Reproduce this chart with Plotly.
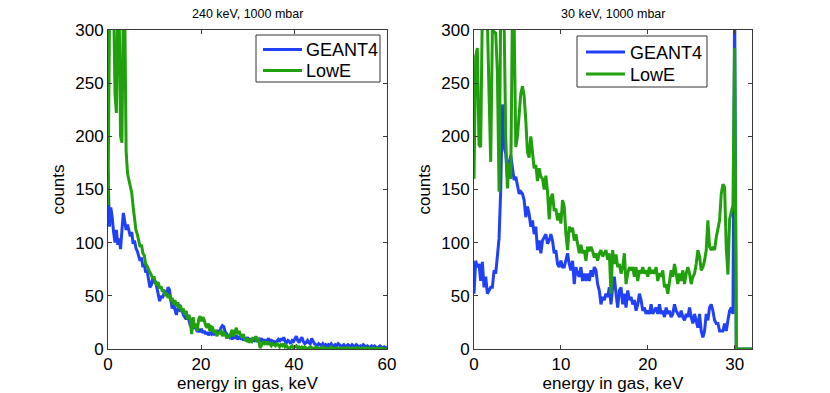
import plotly.graph_objects as go

# ---------------- data ----------------
left_title = "240 keV, 1000 mbar"
right_title = "30 keV, 1000 mbar"
series_names = ["GEANT4", "LowE"]

left_step = 0.3  # keV per bin
left_geant4 = [
    168, 115, 133, 124, 110, 100, 112, 98, 104, 94,
    112, 128, 120, 112, 117, 110, 106, 110, 99, 102,
    95, 92, 88, 83, 86, 77, 80, 72, 74, 64,
    58, 60, 66, 62, 64, 58, 52, 45, 50, 48,
    52, 55, 50, 58, 56, 45, 38, 42, 36, 32,
    38, 42, 35, 38, 32, 30, 28, 32, 26, 22,
    20, 24, 19, 21, 16, 18, 16, 19, 15, 17,
    14, 16, 13, 15, 14, 17, 13, 16, 14, 18,
    15, 20, 22, 21, 16, 14, 12, 11, 13, 9,
    12, 10, 13, 9, 11, 10, 12, 8, 10, 9,
    11, 8, 10, 7, 9, 8, 10, 7, 9, 8,
    10, 7, 9, 6, 8, 10, 7, 9, 5, 7,
    6, 8, 9, 7, 10, 8, 11, 7, 6, 8,
    7, 5, 8, 7, 10, 12, 8, 6, 9, 11,
    7, 5, 6, 8, 6, 5, 10, 7, 5, 4,
    3, 5, 4, 3, 5, 3, 4, 2, 4, 3,
    5, 3, 2, 4, 3, 5, 4, 2, 3, 4,
    2, 3, 4, 3, 2, 4, 3, 2, 4, 3,
    2, 3, 2, 4, 3, 2, 3, 2, 1, 3,
    2, 3, 2, 1, 2, 3, 2, 1, 2, 1,
    2,
]
left_lowe = [
    135, 300, 330, 305, 330, 240, 222, 330, 320, 200,
    194, 330, 320, 186, 165, 158, 152, 147, 134, 120,
    112, 108, 102, 96, 98, 90, 88, 80, 78, 74,
    72, 70, 66, 68, 62, 60, 63, 57, 59, 54,
    56, 50, 53, 48, 51, 45, 48, 42, 46, 40,
    44, 38, 41, 35, 38, 32, 36, 28, 32, 27,
    14, 30, 20, 24, 17, 28, 31, 26, 30, 27,
    22, 20, 24, 17, 21, 20, 15, 18, 12, 16,
    14, 18, 12, 15, 14, 10, 13, 11, 15, 18,
    12, 16, 20, 14, 17, 13, 11, 14, 9, 8,
    10, 6, 8, 7, 11, 9, 12, 8, 9, 1,
    4, 6, 5, 7, 4, 6, 5, 3, 5, 4,
    3, 5, 4, 2, 4, 3, 5, 2, 3, 1,
    0, 2, 3, 1, 2, 3, 1, 2, 1, 2,
    1, 2, 1, 0, 1, 2, 1, 1, 0, 2,
    1, 0, 1, 1, 2, 0, 1, 1, 0, 1,
    2, 1, 0, 1, 1, 0, 1, 0, 1, 1,
    0, 1, 0, 1, 0, 1, 1, 0, 1, 0,
    1, 0, 1, 0, 0, 1, 0, 1, 0, 0,
    1, 0, 0, 1, 0, 0, 1, 0, 0, 0,
    0,
]

right_step = 30.0 / 156  # keV per bin
right_geant4 = [
    52, 83, 77, 80, 64, 82, 58, 68, 52, 55,
    58, 58, 74, 71, 85, 104, 150, 230, 190, 184,
    160, 175, 182, 170, 159, 162, 152, 146, 148, 146,
    140, 124, 134, 127, 115, 121, 108, 115, 93, 102,
    90, 102, 105, 108, 99, 102, 108, 102, 90, 93,
    80, 77, 83, 77, 77, 83, 90, 80, 74, 83,
    61, 77, 71, 68, 77, 64, 71, 64, 71, 64,
    74, 68, 77, 74, 61, 55, 42, 49, 46, 52,
    49, 58, 42, 58, 68, 52, 39, 55, 58, 42,
    52, 39, 55, 46, 49, 42, 46, 36, 42, 52,
    46, 36, 39, 33, 36, 33, 42, 33, 36, 39,
    33, 42, 33, 36, 30, 39, 33, 36, 30, 33,
    42, 36, 33, 30, 36, 30, 27, 33, 30, 39,
    30, 24, 33, 27, 20, 33, 17, 11, 17, 33,
    27, 39, 42, 36, 27, 24, 24, 17, 17, 17,
    24, 17, 27, 36, 39, 33, 330, 0, 0, 0,
    0, 0, 0, 0, 0, 0, 0, 0,
]
right_lowe = [
    160, 275, 283, 192, 190, 320, 330, 320, 310, 240,
    176, 300, 298, 297, 260, 148, 320, 330, 310, 200,
    151, 175, 160, 320, 310, 190, 200, 225, 240, 247,
    238, 215, 185, 180, 200, 185, 170, 173, 158, 170,
    162, 160, 150, 163, 148, 122, 142, 146, 130, 132,
    121, 128, 118, 140, 134, 108, 93, 115, 110, 114,
    102, 108, 99, 90, 98, 90, 93, 83, 96, 92,
    96, 92, 86, 90, 83, 90, 93, 87, 90, 93,
    84, 90, 52, 93, 80, 89, 77, 80, 71, 77,
    90, 61, 71, 77, 74, 77, 68, 77, 64, 74,
    71, 77, 71, 74, 68, 77, 71, 74, 71, 77,
    64, 71, 68, 74, 58, 61, 52, 64, 74, 68,
    80, 71, 61, 71, 64, 74, 61, 71, 77, 71,
    61, 68, 71, 80, 93, 87, 74, 77, 83, 93,
    121, 96, 93, 96, 93, 105, 112, 121, 146, 155,
    152, 95, 70, 122, 129, 135, 283, 0, 0, 0,
    0, 0, 0, 0, 0, 0, 0, 0,
]

left_energy = [round(i * left_step, 3) for i in range(len(left_geant4))]
right_energy = [round(i * right_step, 4) for i in range(len(right_geant4))]

y_ticks = [0, 50, 100, 150, 200, 250, 300]
left_xticks = [0, 20, 40, 60]
right_xticks = [0, 10, 20, 30]

# ---------------- styling ----------------
W, H = 830, 393
BLUE = "#2141f7"
GREEN = "#21a00d"
FONT = "Liberation Sans, Arial, Helvetica, sans-serif"
LW = 3
COLORS = [BLUE, GREEN]

fig = go.Figure()
fig.add_trace(go.Scatter(x=left_energy, y=left_geant4, mode="lines", name=series_names[0],
                         line=dict(color=BLUE, width=LW), xaxis="x", yaxis="y", showlegend=False))
fig.add_trace(go.Scatter(x=left_energy, y=left_lowe, mode="lines", name=series_names[1],
                         line=dict(color=GREEN, width=LW), xaxis="x", yaxis="y", showlegend=False))
fig.add_trace(go.Scatter(x=right_energy, y=right_geant4, mode="lines", name=series_names[0],
                         line=dict(color=BLUE, width=LW), xaxis="x2", yaxis="y2", showlegend=False))
fig.add_trace(go.Scatter(x=right_energy, y=right_lowe, mode="lines", name=series_names[1],
                         line=dict(color=GREEN, width=LW), xaxis="x2", yaxis="y2", showlegend=False))

def px_x(p):
    return p / W

def px_y(p):
    return 1 - p / H

ax_common = dict(showline=True, linecolor="#3a3a3a", linewidth=1, mirror="ticks",
                 ticks="inside", ticklen=4, tickcolor="#3a3a3a", tickwidth=1,
                 showgrid=False, zeroline=False, automargin=False,
                 tickfont=dict(family=FONT, size=17, color="black"))

# legend boxes drawn in pixel layout: (box left, top, right, bottom, sample x0, x1, text x, row ys)
legend_boxes = [
    dict(box=(256, 35, 380, 82), sample=(263, 302), text_x=304, rows=(49.5, 70.5)),
    dict(box=(577, 36, 707, 87), sample=(586, 625), text_x=628, rows=(52, 74)),
]

shapes = []
annotations = [
    dict(text=left_title, x=(px_x(108) + px_x(387)) / 2, y=px_y(13.5), xref="paper", yref="paper",
         xanchor="center", yanchor="middle", showarrow=False, font=dict(family=FONT, size=12.5)),
    dict(text=right_title, x=(px_x(474) + px_x(752)) / 2, y=px_y(13.5), xref="paper", yref="paper",
         xanchor="center", yanchor="middle", showarrow=False, font=dict(family=FONT, size=12.5)),
]
for lg in legend_boxes:
    x0, y0, x1, y1 = lg["box"]
    shapes.append(dict(type="rect", xref="paper", yref="paper",
                       x0=px_x(x0), x1=px_x(x1), y0=px_y(y1), y1=px_y(y0),
                       line=dict(color="#333333", width=1), fillcolor="white", layer="above"))
    for name, col, ry in zip(series_names, COLORS, lg["rows"]):
        shapes.append(dict(type="line", xref="paper", yref="paper",
                           x0=px_x(lg["sample"][0]), x1=px_x(lg["sample"][1]),
                           y0=px_y(ry), y1=px_y(ry),
                           line=dict(color=col, width=LW), layer="above"))
        annotations.append(dict(text=name, x=px_x(lg["text_x"]), y=px_y(ry + 0.5),
                                xref="paper", yref="paper", xanchor="left", yanchor="middle",
                                showarrow=False, font=dict(family=FONT, size=18, color="black")))

ydom = [px_y(349), px_y(30)]
fig.update_layout(
    width=W, height=H,
    margin=dict(l=0, r=0, t=0, b=0, autoexpand=False),
    paper_bgcolor="white", plot_bgcolor="white",
    font=dict(family=FONT, color="black"),
    xaxis=dict(domain=[px_x(108), px_x(387)], range=[0, 60], tickvals=left_xticks,
               title=dict(text="energy in gas, keV", font=dict(size=17), standoff=2),
               anchor="y", **ax_common),
    yaxis=dict(domain=ydom, range=[0, 300], tickvals=y_ticks,
               title=dict(text="counts", font=dict(size=17), standoff=6),
               anchor="x", **ax_common),
    xaxis2=dict(domain=[px_x(474), px_x(752)], range=[0, 32], tickvals=right_xticks,
                title=dict(text="energy in gas, keV", font=dict(size=17), standoff=2),
                anchor="y2", **ax_common),
    yaxis2=dict(domain=ydom, range=[0, 300], tickvals=y_ticks,
                title=dict(text="counts", font=dict(size=17), standoff=6),
                anchor="x2", **ax_common),
    showlegend=False,
    shapes=shapes,
    annotations=annotations,
)

fig.write_html("out.html", config={"displayModeBar": False},
               post_script="document.body.style.margin='0';document.body.style.padding='0';")
